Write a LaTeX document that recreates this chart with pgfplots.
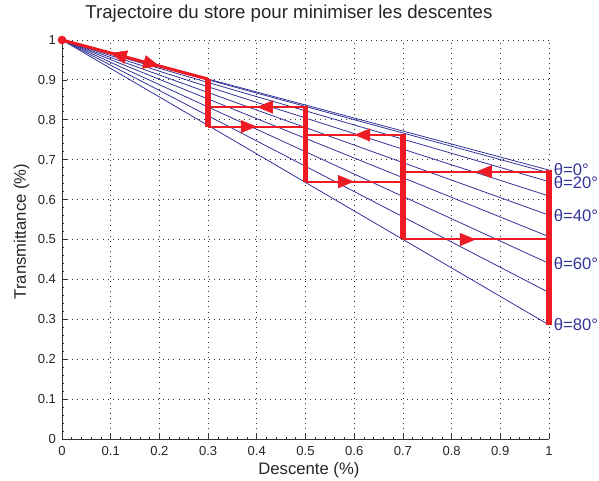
\documentclass[border=0pt]{standalone}
\usepackage{fontspec}
\setmainfont{Liberation Sans}
\usepackage{pgfplots}
\pgfplotsset{compat=1.18}
\usetikzlibrary{arrows.meta,decorations.markings}

\definecolor{trajred}{RGB}{237,28,36}
\definecolor{thetablue}{RGB}{51,51,153}

% fleche au milieu d'un segment
\tikzset{
  midarrow/.style={postaction={decorate}, decoration={markings,
      mark=at position #1 with {\arrow{Triangle[length=12pt,width=9.5pt]}}}},
  midarrowrev/.style={postaction={decorate}, decoration={markings,
      mark=at position #1 with {\arrowreversed{Triangle[length=12pt,width=9.5pt]}}}},
}

\begin{document}
\begin{tikzpicture}
\begin{axis}[
  at={(0,0)}, anchor=south west,
  scale only axis,
  width=365.25pt, height=299.25pt,
  xmin=0, xmax=1, ymin=0, ymax=1,
  clip=false,
  axis x line*=bottom, axis y line*=left,
  axis line style={black!80, line width=0.6pt},
  xtick={0,0.1,...,1}, ytick={0,0.1,...,1},
  xticklabels={0,0.1,0.2,0.3,0.4,0.5,0.6,0.7,0.8,0.9,1},
  yticklabels={0,0.1,0.2,0.3,0.4,0.5,0.6,0.7,0.8,0.9,1},
  minor tick num=4,
  tick align=inside,
  major tick length=3.5pt, minor tick length=1.8pt,
  tick style={black!80, line width=0.5pt},
  grid=major,
  major grid style={dash pattern=on 0.6pt off 3.2pt, black!80, line width=0.6pt},
  ticklabel style={font=\fontsize{9.8}{11}\selectfont, text=black!85},
  xticklabel style={yshift=-2pt},
  yticklabel style={xshift=-1pt},
  title={Trajectoire du store pour minimiser les descentes},
  title style={at={(0.466,1)}, anchor=base, yshift=10pt,
    font=\fontsize{14}{16}\selectfont, text=black!85},
  xlabel={Descente (\%)},
  xlabel style={at={(axis description cs:0.507,0)}, anchor=base, yshift=-27pt,
    font=\fontsize{12.5}{15}\selectfont, text=black!85},
  ylabel={Transmittance (\%)},
  ylabel style={at={([xshift=-27pt]axis description cs:0,0.52)}, anchor=base,
    font=\fontsize{12.5}{15}\selectfont, text=black!85},
]

% droites de transmittance pour theta = 0, 10, ..., 80 degres
\addplot[thetablue, line width=0.6pt] coordinates {(0,1) (1,0.674)};
\addplot[thetablue, line width=0.6pt] coordinates {(0,1) (1,0.667)};
\addplot[thetablue, line width=0.6pt] coordinates {(0,1) (1,0.645)};
\addplot[thetablue, line width=0.6pt] coordinates {(0,1) (1,0.609)};
\addplot[thetablue, line width=0.6pt] coordinates {(0,1) (1,0.561)};
\addplot[thetablue, line width=0.6pt] coordinates {(0,1) (1,0.507)};
\addplot[thetablue, line width=0.6pt] coordinates {(0,1) (1,0.440)};
\addplot[thetablue, line width=0.6pt] coordinates {(0,1) (1,0.367)};
\addplot[thetablue, line width=0.6pt] coordinates {(0,1) (1,0.286)};

% trajectoire du store
\addplot[trajred, line width=2.3pt, midarrow=0.667, midarrowrev=0.333]
  coordinates {(0,1) (0.3,0.902)};
\addplot[trajred, line width=4.3pt] coordinates {(0.3,0.902) (0.3,0.783)};
\addplot[trajred, line width=1.5pt, midarrow=0.5] coordinates {(0.3,0.783) (0.5,0.783)};
\addplot[trajred, line width=1.5pt, midarrow=0.5] coordinates {(0.5,0.832) (0.3,0.832)};
\addplot[trajred, line width=4.3pt] coordinates {(0.5,0.834) (0.5,0.643)};
\addplot[trajred, line width=1.5pt, midarrow=0.5] coordinates {(0.5,0.645) (0.7,0.645)};
\addplot[trajred, line width=1.5pt, midarrow=0.5] coordinates {(0.7,0.762) (0.5,0.762)};
\addplot[trajred, line width=4.3pt] coordinates {(0.7,0.764) (0.7,0.5)};
\addplot[trajred, line width=1.5pt, midarrow=0.5] coordinates {(0.7,0.5) (1,0.5)};
\addplot[trajred, line width=1.5pt, midarrow=0.5] coordinates {(1,0.670) (0.7,0.670)};
\addplot[trajred, line width=4.3pt] coordinates {(1,0.674) (1,0.286)};
\addplot[trajred, only marks, mark=*, mark size=3pt] coordinates {(0,1)};

\begin{scope}[every node/.style={anchor=west, inner sep=0pt, xshift=3.5pt,
    text=thetablue, font=\fontsize{12.5}{15}\selectfont}]
\node at (axis cs:1,0.676) {θ=0°};
\node at (axis cs:1,0.643) {θ=20°};
\node at (axis cs:1,0.561) {θ=40°};
\node at (axis cs:1,0.440) {θ=60°};
\node at (axis cs:1,0.286) {θ=80°};
\end{scope}
\end{axis}
\pgfresetboundingbox
\path[use as bounding box] (-46.5pt,-31.5pt) rectangle (402.75pt,329.25pt);
\end{tikzpicture}
\end{document}
